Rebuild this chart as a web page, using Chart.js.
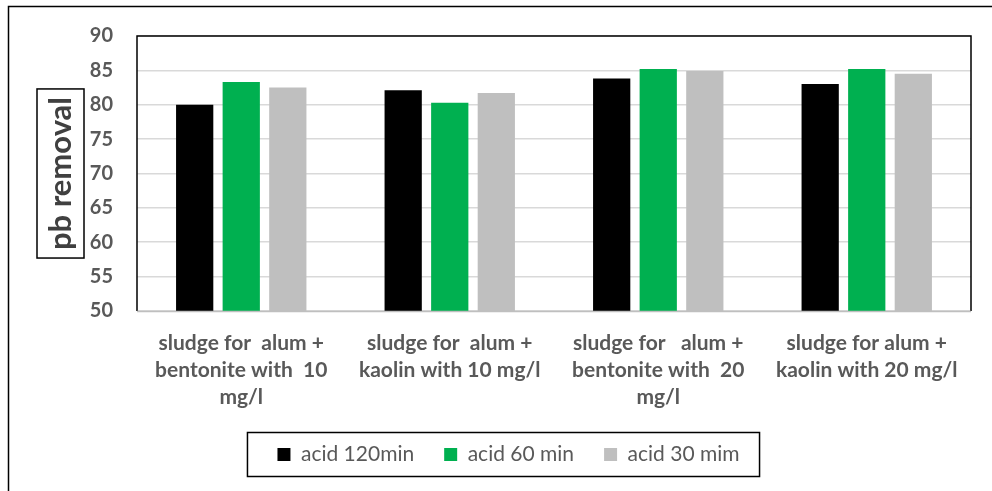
<!DOCTYPE html>
<html><head><meta charset="utf-8">
<script src="https://cdn.jsdelivr.net/npm/chart.js@4.4.0/dist/chart.umd.min.js"></script>
<style>html,body{margin:0;padding:0;background:#fff}#wrap{width:992px;height:491px;position:relative}</style>
</head><body><div id="wrap"><canvas id="c" width="992" height="491"></canvas></div>
<script>
const categories = [
  ["sludge for  alum +", "bentonite with  10", "mg/l"],
  ["sludge for  alum +", "kaolin with 10 mg/l"],
  ["sludge for   alum +", "bentonite with  20", "mg/l"],
  ["sludge for alum +", "kaolin with 20 mg/l"]
];
const seriesNames = ["acid 120min", "acid 60 min", "acid 30 mim"];
const acid120 = [80.0, 82.1, 83.8, 83.0];
const acid60  = [83.3, 80.3, 85.2, 85.2];
const acid30  = [82.5, 81.7, 84.9, 84.5];
const yMin = 50, yMax = 90, yStep = 5;
const yTitle = "pb removal";

const FONT = "Lato, 'Open Sans', 'DejaVu Sans', sans-serif";
const LEGEND_DX = 5;
const LEGEND_DY = -16;

const framePlugin = {
  id: 'frames',
  afterLayout(chart) {
    const lg = chart.legend;
    if (lg) {
      lg.left += LEGEND_DX;
      lg.right += LEGEND_DX;
      lg.top += LEGEND_DY;
      lg.bottom += LEGEND_DY;
    }
  },
  beforeDraw(chart) {
    const ctx = chart.ctx;
    ctx.save();
    ctx.fillStyle = '#fff';
    ctx.fillRect(0, 0, chart.width, chart.height);
    ctx.strokeStyle = '#000';
    ctx.lineWidth = 1.5;
    ctx.beginPath();
    ctx.moveTo(8.5, chart.height + 2);
    ctx.lineTo(8.5, 6.5);
    ctx.lineTo(chart.width + 2, 6.5);
    ctx.stroke();
    ctx.restore();
  },
  afterDraw(chart) {
    const ctx = chart.ctx;
    const a = chart.chartArea;
    ctx.save();
    ctx.strokeStyle = '#000';
    ctx.lineWidth = 1.5;
    ctx.beginPath();
    ctx.moveTo(a.left, a.bottom);
    ctx.lineTo(a.left, a.top);
    ctx.lineTo(a.right, a.top);
    ctx.lineTo(a.right, a.bottom);
    ctx.stroke();
    ctx.strokeStyle = '#bfbfbf';
    ctx.beginPath();
    ctx.moveTo(a.left, a.bottom + 0.5);
    ctx.lineTo(a.right, a.bottom + 0.5);
    ctx.stroke();
    // y title box
    ctx.font = "bold 31px " + FONT;
    const tw = ctx.measureText(yTitle).width;
    const cy = (a.top + a.bottom) / 2;
    ctx.strokeStyle = '#000';
    ctx.strokeRect(37, cy - tw / 2 - 8, 47, tw + 16);
    // legend box
    const hb = chart.legend && chart.legend.legendHitBoxes;
    if (hb && hb.length) {
      const first = hb[0], last = hb[hb.length - 1];
      const mid = first.top + first.height / 2;
      const x0 = first.left - 30, x1 = last.left + last.width + 20;
      if (isFinite(x0) && isFinite(mid)) ctx.strokeRect(x0, mid - 22, x1 - x0, 44);
    }
    ctx.restore();
  }
};

new Chart(document.getElementById('c'), {
  type: 'bar',
  data: {
    labels: categories,
    datasets: [
      { label: seriesNames[0], data: acid120, backgroundColor: '#000000', borderWidth: 0 },
      { label: seriesNames[1], data: acid60, backgroundColor: '#00B050', borderWidth: 0 },
      { label: seriesNames[2], data: acid30, backgroundColor: '#BFBFBF', borderWidth: 0 }
    ]
  },
  options: {
    responsive: false,
    animation: false,
    devicePixelRatio: 1,
    layout: { padding: { left: 36, right: 21, top: 26, bottom: 0 } },
    datasets: { bar: { categoryPercentage: 0.67, barPercentage: 0.8 } },
    scales: {
      x: {
        grid: { display: false, drawTicks: false },
        border: { display: false },
        ticks: {
          color: '#595959',
          font: { family: FONT, size: 21, weight: 'bold', lineHeight: 1.286 },
          padding: 19,
          maxRotation: 0,
          autoSkip: false
        }
      },
      y: {
        min: yMin, max: yMax,
        afterFit(scale) { scale.width = 101; },
        grid: { color: '#d9d9d9', lineWidth: 1.5, drawTicks: false },
        border: { display: false },
        ticks: {
          stepSize: yStep,
          color: '#595959',
          font: { family: FONT, size: 20, weight: 'bold' },
          padding: 24
        },
        title: {
          display: true,
          text: yTitle,
          color: '#404040',
          font: { family: FONT, size: 31, weight: 'bold', lineHeight: 1.2 },
          padding: { top: 6, bottom: 0 }
        }
      }
    },
    plugins: {
      legend: {
        position: 'bottom',
        labels: {
          color: '#595959',
          font: { family: FONT, size: 21 },
          boxWidth: 13,
          boxHeight: 13,
          padding: 30
        }
      },
      tooltip: { enabled: false }
    }
  },
  plugins: [framePlugin]
});
</script>
</body></html>
